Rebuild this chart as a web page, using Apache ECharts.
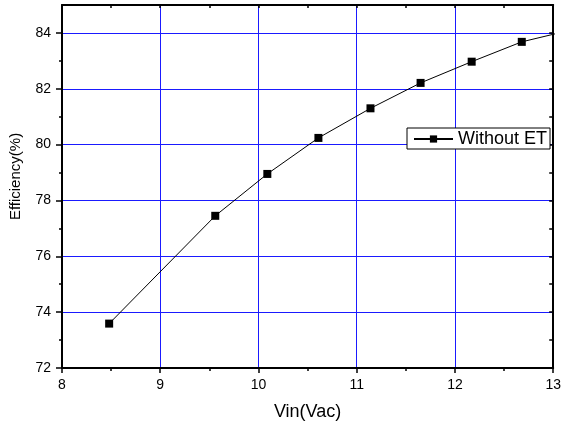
<!DOCTYPE html>
<html>
<head>
<meta charset="utf-8">
<script src="https://cdn.jsdelivr.net/npm/echarts@6/dist/echarts.min.js"></script>
<style>html,body{margin:0;padding:0;background:#fff}#c{width:564px;height:427px}</style>
</head>
<body>
<div id="c"></div>
<script>
const vin = [8.48, 9.56, 10.09, 10.61, 11.14, 11.65, 12.17, 12.68, 13.2];
const efficiency = [73.59, 77.45, 78.95, 80.24, 81.30, 82.21, 82.97, 83.68, 84.12];
const yMajorTicks = [72, 74, 76, 78, 80, 82, 84];
const yMinorTicks = [73, 75, 77, 79, 81, 83];
const yAllTicks = [73, 74, 75, 76, 77, 78, 79, 80, 81, 82, 83, 84];
const xTopTicks = [8.5, 9, 9.5, 10, 10.5, 11, 11.5, 12, 12.5];
const seriesName = 'Without ET';

const chart = echarts.init(document.getElementById('c'), null, {renderer: 'canvas'});
const font = 'Liberation Sans, Arial, sans-serif';
const blk = '#000';
const gridBlue = '#1a1aff';
chart.setOption({
  animation: false,
  backgroundColor: '#fff',
  tooltip: {show: false},
  grid: {left: 62, right: 7, top: 5, bottom: 59},
  legend: {
    data: [seriesName],
    left: 407, top: 128,
    itemWidth: 39, itemHeight: 9,
    padding: [2, 3, 1, 6],
    borderColor: '#000', borderWidth: 1, backgroundColor: '#fff',
    selectedMode: false,
    textStyle: {fontFamily: font, fontSize: 18, color: '#000'}
  },
  xAxis: [{
    type: 'value', min: 8, max: 13, interval: 1, position: 'bottom',
    name: 'Vin(Vac)', nameLocation: 'middle', nameGap: 35,
    nameTextStyle: {fontFamily: font, fontSize: 18, color: '#000'},
    axisLine: {show: true, onZero: false, lineStyle: {color: blk, width: 2}},
    axisTick: {show: true, length: 5, lineStyle: {color: blk, width: 1.5}},
    minorTick: {show: true, splitNumber: 2, length: 3, lineStyle: {color: blk, width: 1.5}},
    axisLabel: {fontFamily: font, fontSize: 14, color: '#000', margin: 10},
    splitLine: {show: true, lineStyle: {color: gridBlue, width: 1}}
  }, {
    type: 'value', min: 8, max: 13, position: 'top',
    axisLine: {show: true, onZero: false, lineStyle: {color: blk, width: 2}},
    axisTick: {show: true, inside: true, length: 3, customValues: xTopTicks, lineStyle: {color: blk, width: 1.5}},
    axisLabel: {show: false},
    splitLine: {show: false},
    minorSplitLine: {show: false}
  }],
  yAxis: [{
    type: 'value', min: 72, max: 85, interval: 2, position: 'left',
    name: 'Efficiency(%)', nameLocation: 'middle', nameGap: 39,
    nameTextStyle: {fontFamily: font, fontSize: 15, color: '#000', padding: [0, 0, 0, 20]},
    axisLine: {show: true, onZero: false, lineStyle: {color: blk, width: 2}},
    axisTick: {show: true, length: 6, customValues: yMajorTicks, lineStyle: {color: blk, width: 1.5}},
    axisLabel: {fontFamily: font, fontSize: 14, color: '#000', margin: 11, customValues: yMajorTicks},
    splitLine: {show: true, lineStyle: {color: gridBlue, width: 1}}
  }, {
    type: 'value', min: 72, max: 85, position: 'left',
    axisLine: {show: false},
    axisTick: {show: true, length: 3, customValues: yMinorTicks, lineStyle: {color: blk, width: 1.5}},
    axisLabel: {show: false},
    splitLine: {show: false},
    minorSplitLine: {show: false}
  }, {
    type: 'value', min: 72, max: 85, position: 'right',
    axisLine: {show: true, onZero: false, lineStyle: {color: blk, width: 2}},
    axisTick: {show: true, inside: true, length: 4, customValues: yAllTicks, lineStyle: {color: blk, width: 1.5}},
    axisLabel: {show: false},
    splitLine: {show: false},
    minorSplitLine: {show: false}
  }],
  series: [{
    name: seriesName,
    type: 'line',
    xAxisIndex: 0, yAxisIndex: 0,
    data: vin.map((v, i) => [v, efficiency[i]]),
    clip: true,
    silent: true,
    symbol: 'rect', symbolSize: 8,
    itemStyle: {color: '#000'},
    lineStyle: {color: '#000', width: 1},
    z: 5
  }]
});
</script>
</body>
</html>
